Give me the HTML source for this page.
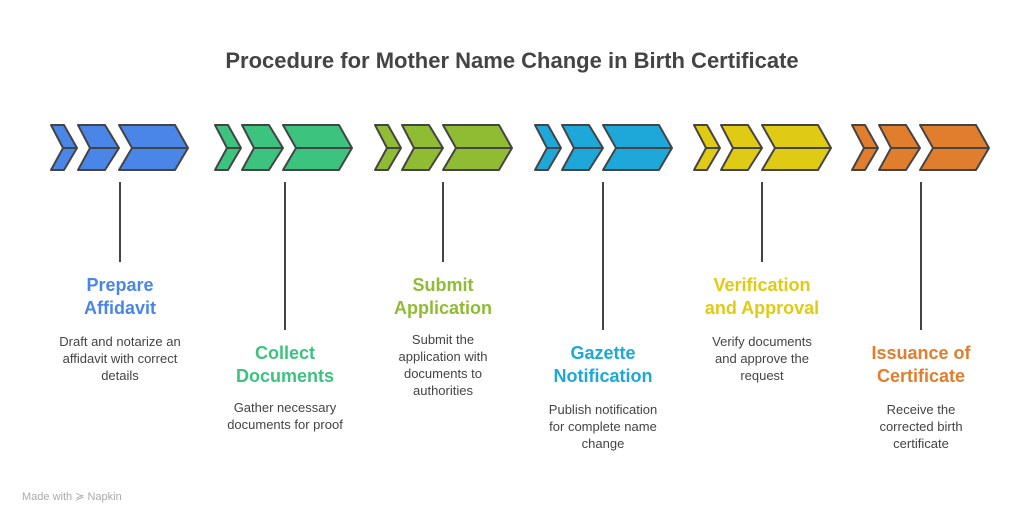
<!DOCTYPE html>
<html><head><meta charset="utf-8"><style>
body{margin:0;width:1024px;height:524px;background:#fff;position:relative;overflow:hidden;font-family:"Liberation Sans",Arial,sans-serif}
.h{position:absolute;top:48px;left:0;width:1024px;text-align:center;font-size:22px;font-weight:bold;color:#444}
.t{position:absolute;width:160px;text-align:center;font-size:18px;font-weight:bold;line-height:23px}
.d{position:absolute;width:130px;text-align:center;font-size:13px;line-height:17px;color:#444}
.m{position:absolute;left:22px;top:490px;font-size:11px;color:#aaa}
</style></head><body>
<div class="h">Procedure for Mother Name Change in Birth Certificate</div>
<svg width="1024" height="524" style="position:absolute;left:0;top:0">
<g stroke="#444" stroke-width="2" stroke-linejoin="round">
<g transform="translate(51,0)" fill="#4A86E8"><polygon points="0,125 13,125 26,148 13,170 0,170 12,148"/><polygon points="27,125 54,125 68,148 54,170 27,170 39,148"/><polygon points="68,125 124,125 137,148 124,170 68,170 81,148"/><path d="M12,148H26M39,148H68M81,148H137" fill="none"/></g>
<g transform="translate(215,0)" fill="#3CC47F"><polygon points="0,125 13,125 26,148 13,170 0,170 12,148"/><polygon points="27,125 54,125 68,148 54,170 27,170 39,148"/><polygon points="68,125 124,125 137,148 124,170 68,170 81,148"/><path d="M12,148H26M39,148H68M81,148H137" fill="none"/></g>
<g transform="translate(375,0)" fill="#8FBC32"><polygon points="0,125 13,125 26,148 13,170 0,170 12,148"/><polygon points="27,125 54,125 68,148 54,170 27,170 39,148"/><polygon points="68,125 124,125 137,148 124,170 68,170 81,148"/><path d="M12,148H26M39,148H68M81,148H137" fill="none"/></g>
<g transform="translate(535,0)" fill="#1EA8D9"><polygon points="0,125 13,125 26,148 13,170 0,170 12,148"/><polygon points="27,125 54,125 68,148 54,170 27,170 39,148"/><polygon points="68,125 124,125 137,148 124,170 68,170 81,148"/><path d="M12,148H26M39,148H68M81,148H137" fill="none"/></g>
<g transform="translate(694,0)" fill="#E0CB14"><polygon points="0,125 13,125 26,148 13,170 0,170 12,148"/><polygon points="27,125 54,125 68,148 54,170 27,170 39,148"/><polygon points="68,125 124,125 137,148 124,170 68,170 81,148"/><path d="M12,148H26M39,148H68M81,148H137" fill="none"/></g>
<g transform="translate(852,0)" fill="#E07E2E"><polygon points="0,125 13,125 26,148 13,170 0,170 12,148"/><polygon points="27,125 54,125 68,148 54,170 27,170 39,148"/><polygon points="68,125 124,125 137,148 124,170 68,170 81,148"/><path d="M12,148H26M39,148H68M81,148H137" fill="none"/></g>
<path d="M120,182V262M285,182V330M443,182V262M603,182V330M762,182V262M921,182V330" fill="none"/>
</g></svg>
<div class="t" style="left:40px;top:274px;color:#4A86E8">Prepare<br>Affidavit</div>
<div class="d" style="left:55px;top:333px">Draft and notarize an affidavit with correct details</div>
<div class="t" style="left:205px;top:342px;color:#3CC47F">Collect<br>Documents</div>
<div class="d" style="left:220px;top:399px">Gather necessary documents for proof</div>
<div class="t" style="left:363px;top:274px;color:#8FBC32">Submit<br>Application</div>
<div class="d" style="left:378px;top:331px">Submit the<br>application with<br>documents to<br>authorities</div>
<div class="t" style="left:523px;top:342px;color:#1EA8D9">Gazette<br>Notification</div>
<div class="d" style="left:538px;top:401px">Publish notification<br>for complete name<br>change</div>
<div class="t" style="left:682px;top:274px;color:#E0CB14">Verification<br>and Approval</div>
<div class="d" style="left:697px;top:333px">Verify documents<br>and approve the<br>request</div>
<div class="t" style="left:841px;top:342px;color:#E07E2E">Issuance of<br>Certificate</div>
<div class="d" style="left:856px;top:401px">Receive the<br>corrected birth<br>certificate</div>
<div class="m">Made with ≽ Napkin</div>
</body></html>
